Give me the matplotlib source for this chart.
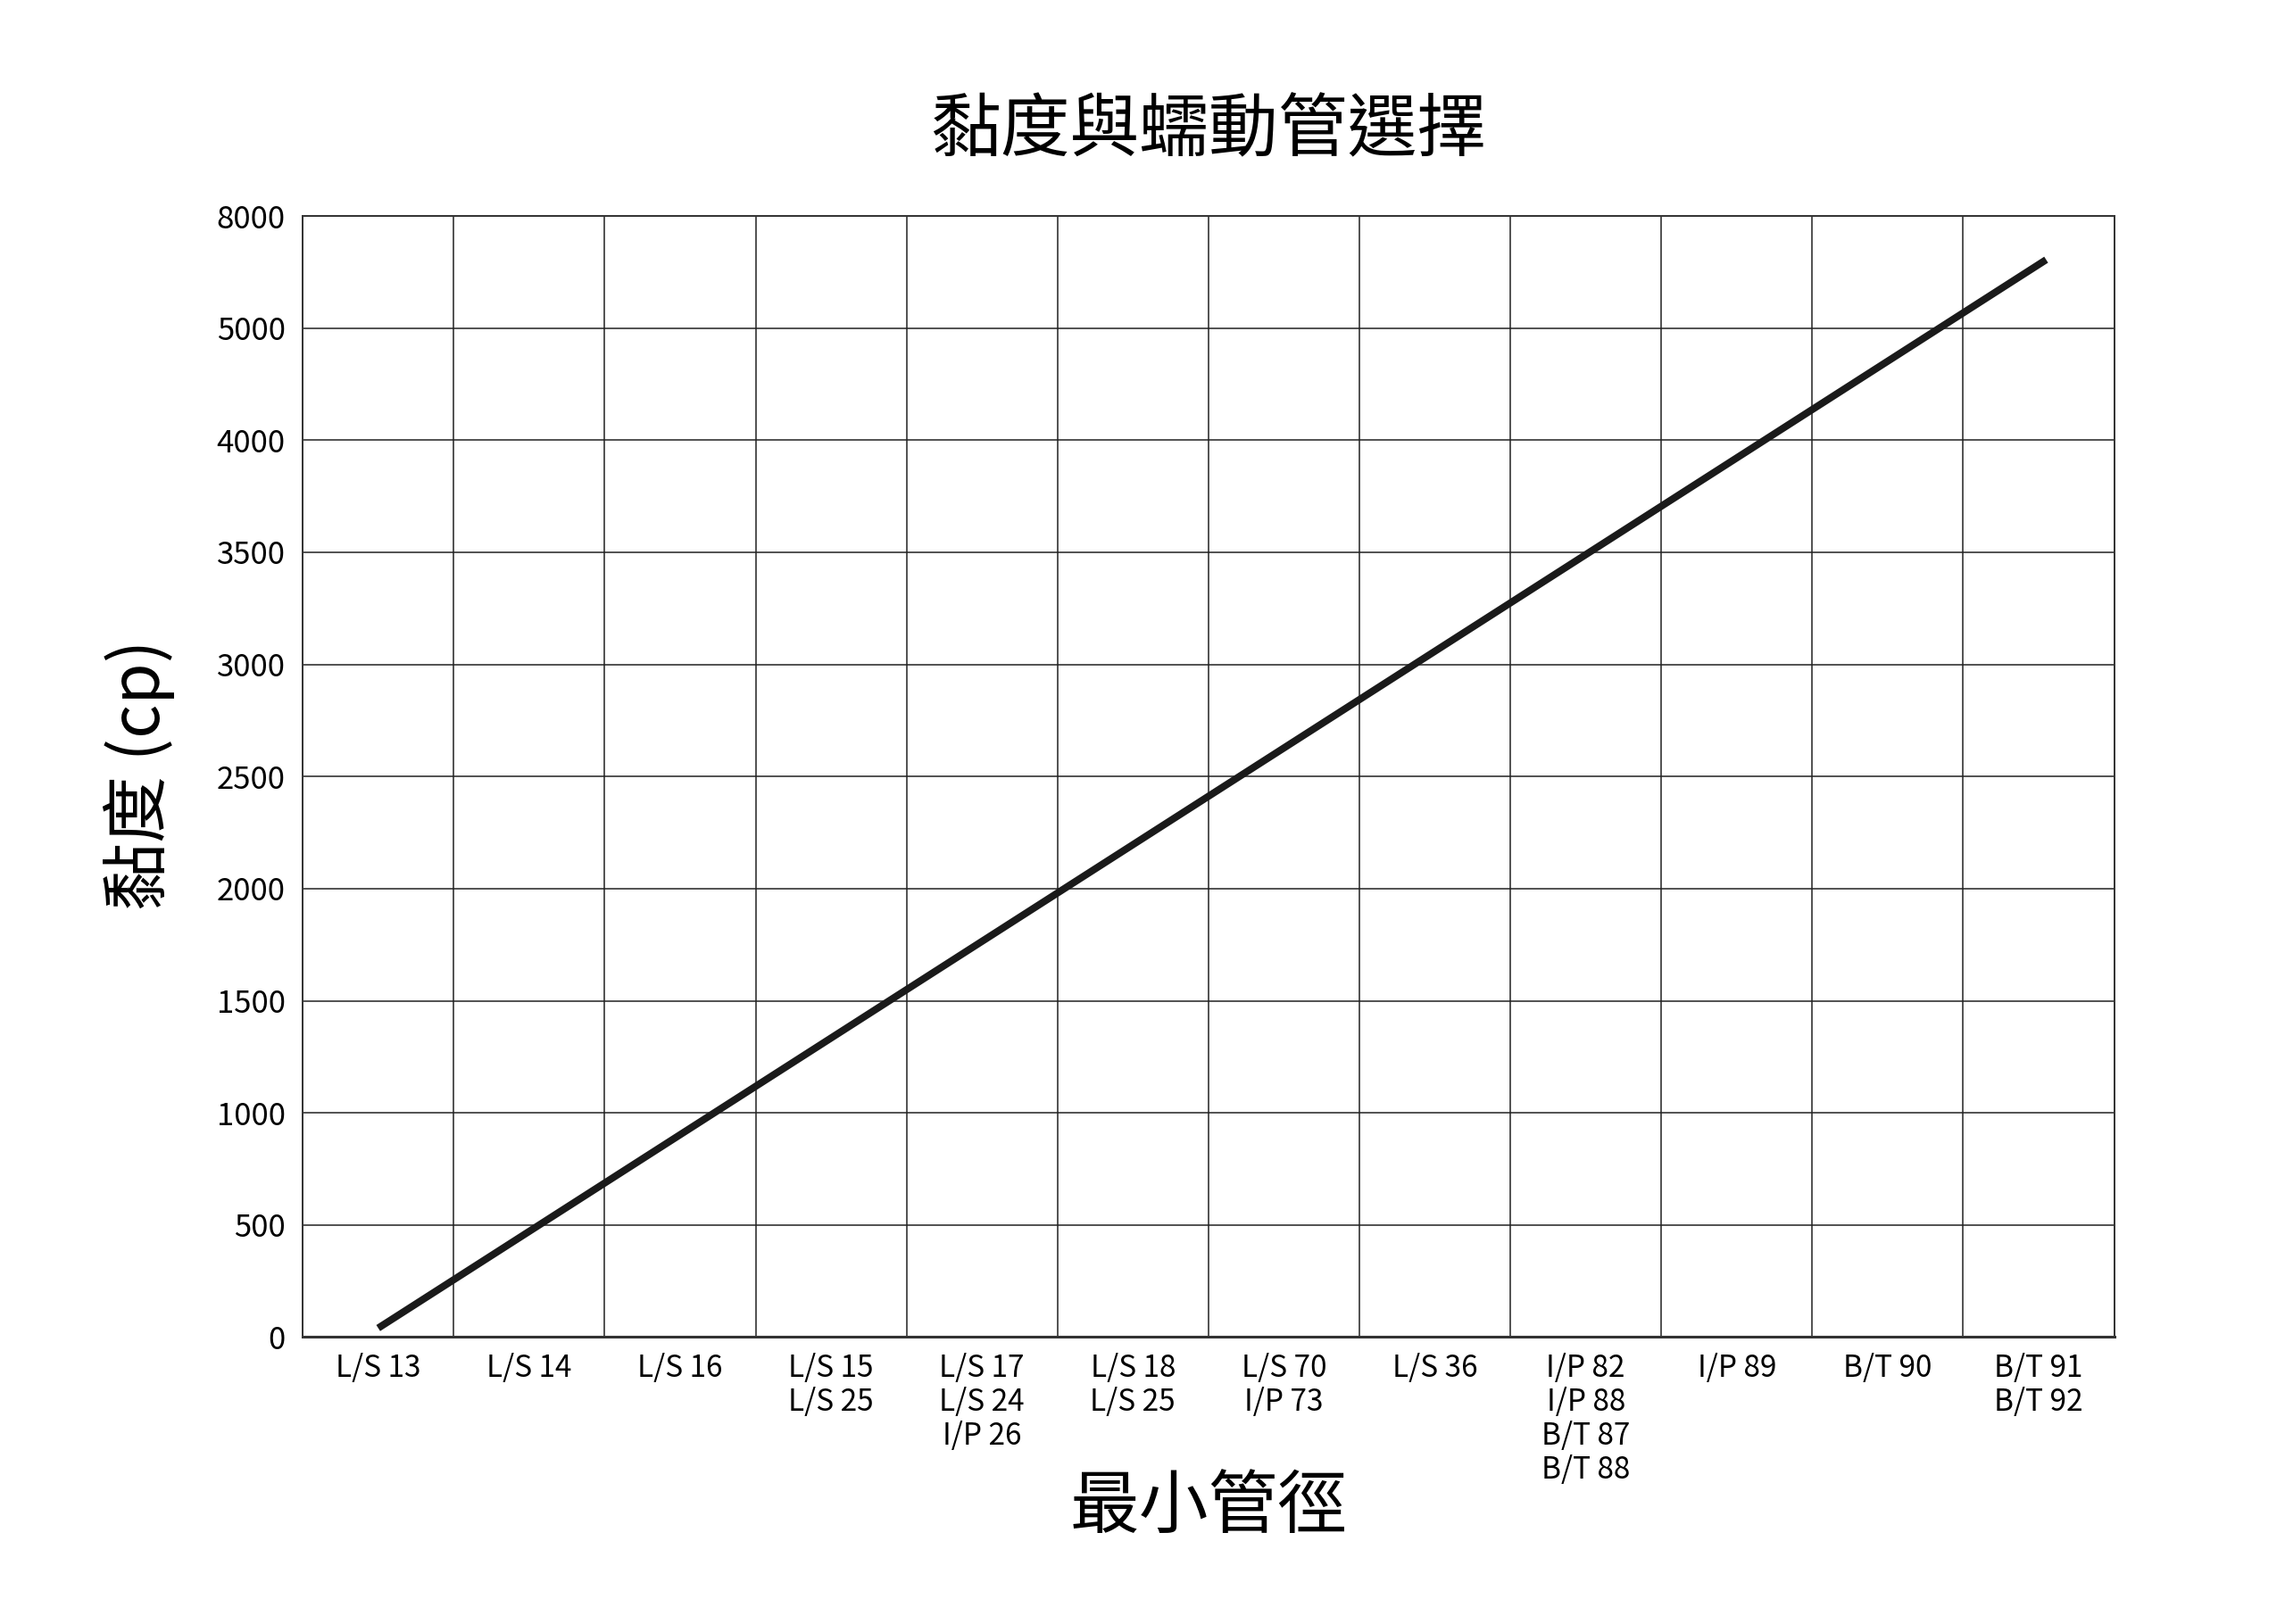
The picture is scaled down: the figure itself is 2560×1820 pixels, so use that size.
import matplotlib
matplotlib.use("Agg")
import matplotlib.pyplot as plt
import numpy as np

plt.rcParams['font.family'] = ['Noto Sans CJK TC', 'DejaVu Sans']

# pump tube labels, one column per group
tube_groups = ["L/S 13", "L/S 14", "L/S 16", "L/S 15\nL/S 25",
               "L/S 17\nL/S 24\nI/P 26", "L/S 18\nL/S 25", "L/S 70\nI/P 73",
               "L/S 36", "I/P 82\nI/P 88\nB/T 87\nB/T 88", "I/P 89",
               "B/T 90", "B/T 91\nB/T 92"]

# y axis rows are evenly spaced, labels are not linear
visc_labels = ["0", "500", "1000", "1500", "2000", "2500", "3000",
               "3500", "4000", "5000", "8000"]

# line end points (column index, row index)
line_x = [0.0, 11.05]
line_y = [0.08, 9.61]

fig = plt.figure(figsize=(25.6, 18.2), dpi=100)
ax = fig.add_axes([0.1325, 0.1767, 0.7927, 0.6903])

ax.plot(line_x, line_y, color='#1a1a1a', lw=5.8, solid_capstyle='butt', zorder=3)

ax.set_xlim(-0.5, len(tube_groups) - 0.5)
ax.set_ylim(0, len(visc_labels) - 1)

ax.set_xticks(np.arange(len(tube_groups)))
ax.set_xticklabels(tube_groups, fontsize=24, linespacing=1.1)
ax.set_xticks(np.arange(-0.5, len(tube_groups)), minor=True)
ax.set_yticks(np.arange(len(visc_labels)))
ax.set_yticklabels(visc_labels, fontsize=25)

ax.tick_params(axis='both', which='both', length=0)
ax.tick_params(axis='y', pad=14)
ax.tick_params(axis='x', pad=13)

ax.grid(True, axis='y', which='major', color='#222222', lw=1.1)
ax.grid(True, axis='x', which='minor', color='#222222', lw=1.1)
ax.set_axisbelow(True)

for s in ax.spines.values():
    s.set_color('#333333')
    s.set_linewidth(1.4)
ax.spines['bottom'].set_linewidth(2.2)

fig.text(0.529, 0.919, "黏度與蠕動管選擇", ha='center', va='center', fontsize=56)
fig.text(0.529, 0.0714, "最小管徑", ha='center', va='center', fontsize=56)
fig.text(0.061, 0.523, "黏度 (cp)", ha='center', va='center', rotation=90,
         fontsize=54)

fig.savefig("out.png", dpi=100, facecolor='white')
